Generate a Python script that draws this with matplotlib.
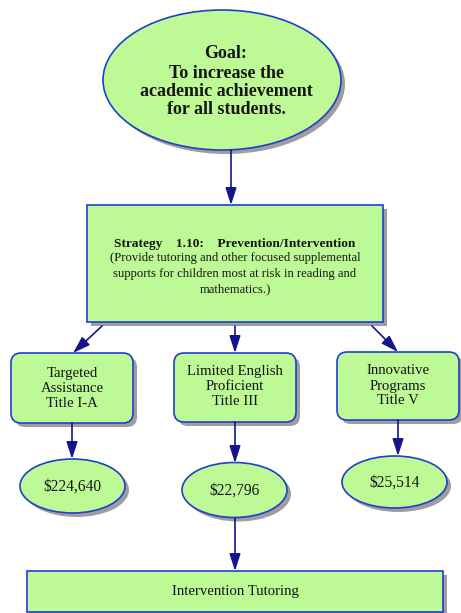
import matplotlib
matplotlib.use("Agg")
import matplotlib.pyplot as plt
from matplotlib.patches import Ellipse, FancyBboxPatch, Rectangle, FancyArrowPatch

# ---- content ----
goal_lines = ["Goal:", "To increase the", "academic achievement", "for all students."]
strategy_title = "Strategy    1.10:    Prevention/Intervention"
strategy_lines = ["(Provide tutoring and other focused supplemental",
                  "supports for children most at risk in reading and",
                  "mathematics.)"]
program_labels = [["Targeted", "Assistance", "Title I-A"],
                  ["Limited English", "Proficient", "Title III"],
                  ["Innovative", "Programs", "Title V"]]
amount_labels = ["$224,640", "$22,796", "$25,514"]
bottom_label = "Intervention Tutoring"

FILL = "#bdf994"
EDGE = "#1f3fcf"
ARROW = "#14148c"
SHADOW = "#a09ca0"
FONT = "Liberation Serif"

W, H = 461, 613
fig = plt.figure(figsize=(W / 100, H / 100), dpi=100)
ax = fig.add_axes([0, 0, 1, 1])
ax.set_xlim(0, W)
ax.set_ylim(H, 0)
ax.axis("off")

SH = 4  # shadow offset


def ellipse(cx, cy, w, h):
    ax.add_patch(Ellipse((cx + SH, cy + SH), w, h, facecolor=SHADOW, edgecolor="none", zorder=1))
    ax.add_patch(Ellipse((cx, cy), w, h, facecolor=FILL, edgecolor=EDGE, lw=1.2, zorder=2))


def rect(x0, y0, x1, y1):
    ax.add_patch(Rectangle((x0 + SH, y0 + SH), x1 - x0, y1 - y0, facecolor=SHADOW, edgecolor="none", zorder=1))
    ax.add_patch(Rectangle((x0, y0), x1 - x0, y1 - y0, facecolor=FILL, edgecolor=EDGE, lw=1.2, zorder=2))


def rbox(x0, y0, x1, y1):
    r = 10
    ax.add_patch(FancyBboxPatch((x0 + SH + r, y0 + SH + r), x1 - x0 - 2 * r, y1 - y0 - 2 * r,
                                boxstyle=f"round,pad={r}", facecolor=SHADOW, edgecolor="none", zorder=1))
    ax.add_patch(FancyBboxPatch((x0 + r, y0 + r), x1 - x0 - 2 * r, y1 - y0 - 2 * r,
                                boxstyle=f"round,pad={r}", facecolor=FILL, edgecolor=EDGE, lw=1.2, zorder=2))


def arrow(x0, y0, x1, y1):
    ax.add_patch(FancyArrowPatch((x0, y0), (x1, y1), arrowstyle="-|>,head_length=1.3,head_width=0.42",
                                 mutation_scale=8, color=ARROW, lw=1.2, shrinkA=0, shrinkB=0, zorder=3))


def lines(cx, ys, texts, size, weight="normal"):
    for y, t in zip(ys, texts):
        ax.text(cx, y, t, ha="center", va="center_baseline", fontsize=size, fontweight=weight,
                family=FONT, color="#151515", zorder=4)


# Goal
ellipse(222, 80, 238, 140)
lines(226, [52, 71, 89, 107], goal_lines, 13, "bold")
arrow(231, 150, 231, 205)

# Strategy
rect(87, 205, 383, 322)
lines(235, [242], [strategy_title], 9.6, "bold")
lines(235, [257, 272, 288], strategy_lines, 9.1)

# Program boxes
box_x = [(11, 133), (174, 296), (337, 459)]
box_y = [(353, 423), (353, 422), (352, 420)]
text_y = [[372, 387, 402], [370, 385, 400], [369, 385, 399]]
for (x0, x1), (y0, y1), ty, lab in zip(box_x, box_y, text_y, program_labels):
    rbox(x0, y0, x1, y1)
    lines((x0 + x1) / 2, ty, lab, 10.6)

arrow(102, 326, 73, 353)
arrow(235, 326, 235, 353)
arrow(372, 326, 398, 352)

# Amounts
ell = [(72.5, 486, 105, 54), (234.5, 490, 105, 55), (394.5, 482, 105, 52)]
for (cx, cy, w, h), t in zip(ell, amount_labels):
    ellipse(cx, cy, w, h)
    lines(cx, [cy - 1], [t], 11.2)

arrow(72, 423, 72, 459)
arrow(235, 422, 235, 463)
arrow(398, 420, 398, 456)

# Bottom
arrow(235, 518, 235, 571)
rect(27, 571, 443, 612)
lines(235, [590], [bottom_label], 10.6)

fig.savefig("out.png", dpi=100)
